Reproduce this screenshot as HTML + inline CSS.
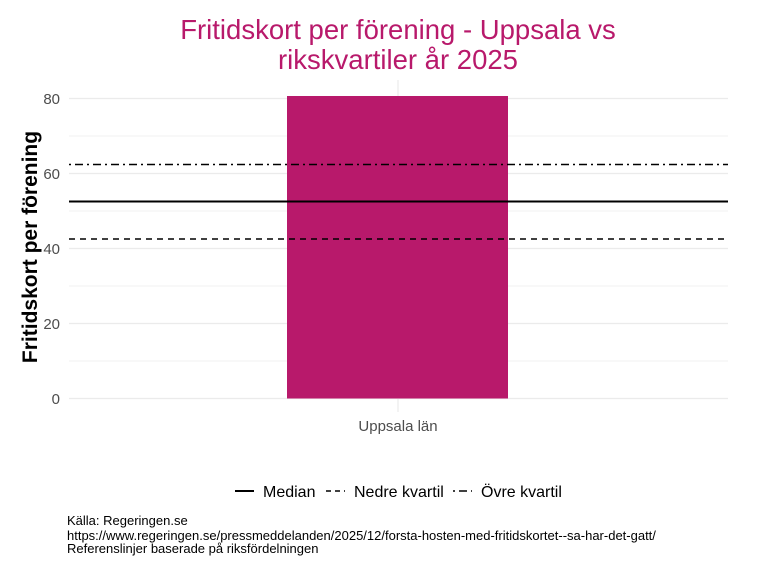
<!DOCTYPE html>
<html><head><meta charset="utf-8"><style>body{margin:0;background:#fff}svg{display:block}</style></head>
<body>
<svg width="768" height="576" xmlns="http://www.w3.org/2000/svg" font-family="Liberation Sans, sans-serif">
<rect width="768" height="576" fill="#fff"/>
<text x="398" y="39" text-anchor="middle" font-size="27.5" fill="#B8196B">Fritidskort per förening - Uppsala vs</text>
<text x="398" y="69" text-anchor="middle" font-size="27.5" fill="#B8196B">rikskvartiler år 2025</text>
<g stroke="#f2f2f2" stroke-width="1">
<line x1="69" x2="728" y1="361" y2="361"/><line x1="69" x2="728" y1="286" y2="286"/>
<line x1="69" x2="728" y1="211" y2="211"/><line x1="69" x2="728" y1="136" y2="136"/>
</g>
<g stroke="#ebebeb" stroke-width="1.2">
<line x1="69" x2="728" y1="398.5" y2="398.5"/><line x1="69" x2="728" y1="323.5" y2="323.5"/>
<line x1="69" x2="728" y1="248.5" y2="248.5"/><line x1="69" x2="728" y1="173.5" y2="173.5"/>
<line x1="69" x2="728" y1="98.5" y2="98.5"/><line x1="398" x2="398" y1="80" y2="412"/>
</g>
<rect x="287" y="96" width="221" height="302.5" fill="#B8196B"/>
<line x1="69" x2="728" y1="201.5" y2="201.5" stroke="#000" stroke-width="2"/>
<line x1="69" x2="728" y1="239" y2="239" stroke="#000" stroke-width="1.4" stroke-dasharray="6,5"/>
<line x1="69" x2="728" y1="164.5" y2="164.5" stroke="#000" stroke-width="1.4" stroke-dasharray="2,4,8,4"/>
<g font-size="15" fill="#4d4d4d" text-anchor="end">
<text x="60" y="404">0</text><text x="60" y="329">20</text><text x="60" y="254">40</text>
<text x="60" y="179">60</text><text x="60" y="104">80</text>
</g>
<text x="398" y="431" text-anchor="middle" font-size="15" fill="#4d4d4d">Uppsala län</text>
<text transform="translate(37,247) rotate(-90)" text-anchor="middle" font-size="21" font-weight="bold" fill="#000">Fritidskort per förening</text>
<g font-size="16" fill="#000">
<line x1="235" x2="254" y1="491" y2="491" stroke="#000" stroke-width="2"/>
<text x="263" y="497">Median</text>
<line x1="326" x2="345" y1="491" y2="491" stroke="#000" stroke-width="1.4" stroke-dasharray="5,4"/>
<text x="354" y="497">Nedre kvartil</text>
<line x1="453" x2="472" y1="491" y2="491" stroke="#000" stroke-width="1.4" stroke-dasharray="2,4,8,4"/>
<text x="481" y="497">Övre kvartil</text>
</g>
<g font-size="13" fill="#000">
<text x="67" y="525">Källa: Regeringen.se</text>
<text x="67" y="540">https://www.regeringen.se/pressmeddelanden/2025/12/forsta-hosten-med-fritidskortet--sa-har-det-gatt/</text>
<text x="67" y="553">Referenslinjer baserade på riksfördelningen</text>
</g>
</svg>
</body></html>
